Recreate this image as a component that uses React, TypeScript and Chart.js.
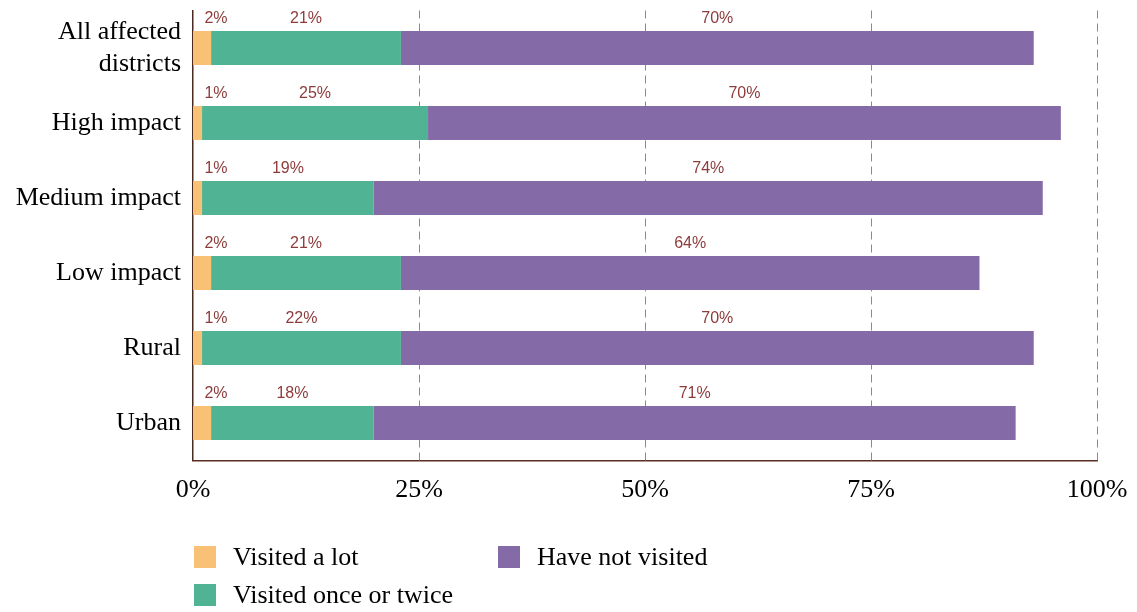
import React, { useEffect, useRef } from "react";
import { Chart, registerables } from "chart.js";

Chart.register(...registerables);

const categories: (string | string[])[] = [
  ["All affected", "districts"],
  "High impact",
  "Medium impact",
  "Low impact",
  "Rural",
  "Urban",
];
const visitedALot = [2, 1, 1, 2, 1, 2];
const visitedOnceOrTwice = [21, 25, 19, 21, 22, 18];
const haveNotVisited = [70, 70, 74, 64, 70, 71];
const xTicks = [0, 25, 50, 75, 100];
const gridValues = [25, 50, 75, 100];

const seriesNames = ["Visited a lot", "Visited once or twice", "Have not visited"];
const colors = ["#F9C176", "#50B494", "#846AA6"];

const SERIF = "'Liberation Serif', 'Times New Roman', serif";
const SANS = "'Liberation Sans', Arial, sans-serif";

const gridPlugin = {
  id: "dashGrid",
  beforeDatasetsDraw(chart: any) {
    const ctx = chart.ctx;
    const xs = chart.scales.x;
    const area = chart.chartArea;
    ctx.save();
    ctx.strokeStyle = "#5FA08A";
    ctx.lineWidth = 1;
    ctx.setLineDash([8, 5]);
    gridValues.forEach((v) => {
      const px = Math.round(xs.getPixelForValue(v)) + 0.5;
      ctx.beginPath();
      ctx.moveTo(px, area.top);
      ctx.lineTo(px, area.bottom);
      ctx.stroke();
    });
    ctx.restore();
  },
};

const labelPlugin = {
  id: "segLabels",
  afterDatasetsDraw(chart: any) {
    const ctx = chart.ctx;
    ctx.save();
    ctx.font = `16px ${SANS}`;
    ctx.fillStyle = "#8E3B3B";
    ctx.textAlign = "center";
    ctx.textBaseline = "middle";
    chart.data.datasets.forEach((ds: any, di: number) => {
      const meta = chart.getDatasetMeta(di);
      meta.data.forEach((el: any, i: number) => {
        const v = ds.data[i];
        const center = (el.x + el.base) / 2;
        const x = Math.max(center, Math.min(el.x, el.base) + 23);
        const top = el.y - el.height / 2;
        ctx.fillText(`${v}%`, x, top - 12);
      });
    });
    ctx.restore();
  },
};

export default function App() {
  const ref = useRef<HTMLCanvasElement | null>(null);
  useEffect(() => {
    if (!ref.current) return;
    const chart = new Chart(ref.current, {
      type: "bar",
      data: {
        labels: categories,
        datasets: [visitedALot, visitedOnceOrTwice, haveNotVisited].map((d, i) => ({
          label: seriesNames[i],
          data: d,
          backgroundColor: colors[i],
          borderWidth: 0,
          categoryPercentage: 1,
          barPercentage: 0.453,
        })),
      },
      options: {
        indexAxis: "y",
        animation: false,
        responsive: false,
        maintainAspectRatio: false,
        layout: { padding: { left: 0, right: 40, top: 10.5, bottom: 101.5 } },
        plugins: { legend: { display: false }, tooltip: { enabled: false } },
        scales: {
          x: {
            stacked: true,
            min: 0,
            max: 100,
            afterFit(scale: any) {
              scale.height = 50;
              scale.paddingLeft = 0;
              scale.paddingRight = 0;
            },
            afterBuildTicks(scale: any) {
              scale.ticks = xTicks.map((v) => ({ value: v }));
            },
            ticks: {
              padding: 14,
              color: "#000",
              font: { family: SERIF, size: 26 },
              callback: (v: any) => `${v}%`,
              maxRotation: 0,
            },
            grid: { display: false, drawTicks: false },
            border: { color: "#5A2E22", width: 1.5 },
          },
          y: {
            stacked: true,
            afterFit(scale: any) {
              scale.width = 193;
              scale.paddingTop = 0;
              scale.paddingBottom = 0;
            },
            ticks: {
              padding: 12,
              color: "#000",
              font: { family: SERIF, size: 26, lineHeight: 1.25 },
            },
            grid: { display: false, drawTicks: false },
            border: { color: "#4A2A1E", width: 1.5 },
          },
        },
      },
      plugins: [gridPlugin, labelPlugin],
    } as any);
    return () => chart.destroy();
  }, []);

  const legendItem = (i: number, left: number, top: number) => (
    <div
      key={i}
      style={{
        position: "absolute",
        left,
        top,
        display: "flex",
        alignItems: "center",
        fontFamily: SERIF,
        fontSize: 26,
        color: "#000",
        whiteSpace: "nowrap",
        lineHeight: "22px",
      }}
    >
      <span style={{ display: "inline-block", width: 22, height: 22, background: colors[i], marginRight: 17 }} />
      <span>{seriesNames[i]}</span>
    </div>
  );

  return (
    <div style={{ position: "fixed", left: 0, top: 0, width: 1137, height: 612, background: "#fff" }}>
      <canvas ref={ref} width={1137} height={612} style={{ position: "absolute", left: 0, top: 0 }} />
      {legendItem(0, 194, 546)}
      {legendItem(1, 194, 584)}
      {legendItem(2, 498, 546)}
    </div>
  );
}
